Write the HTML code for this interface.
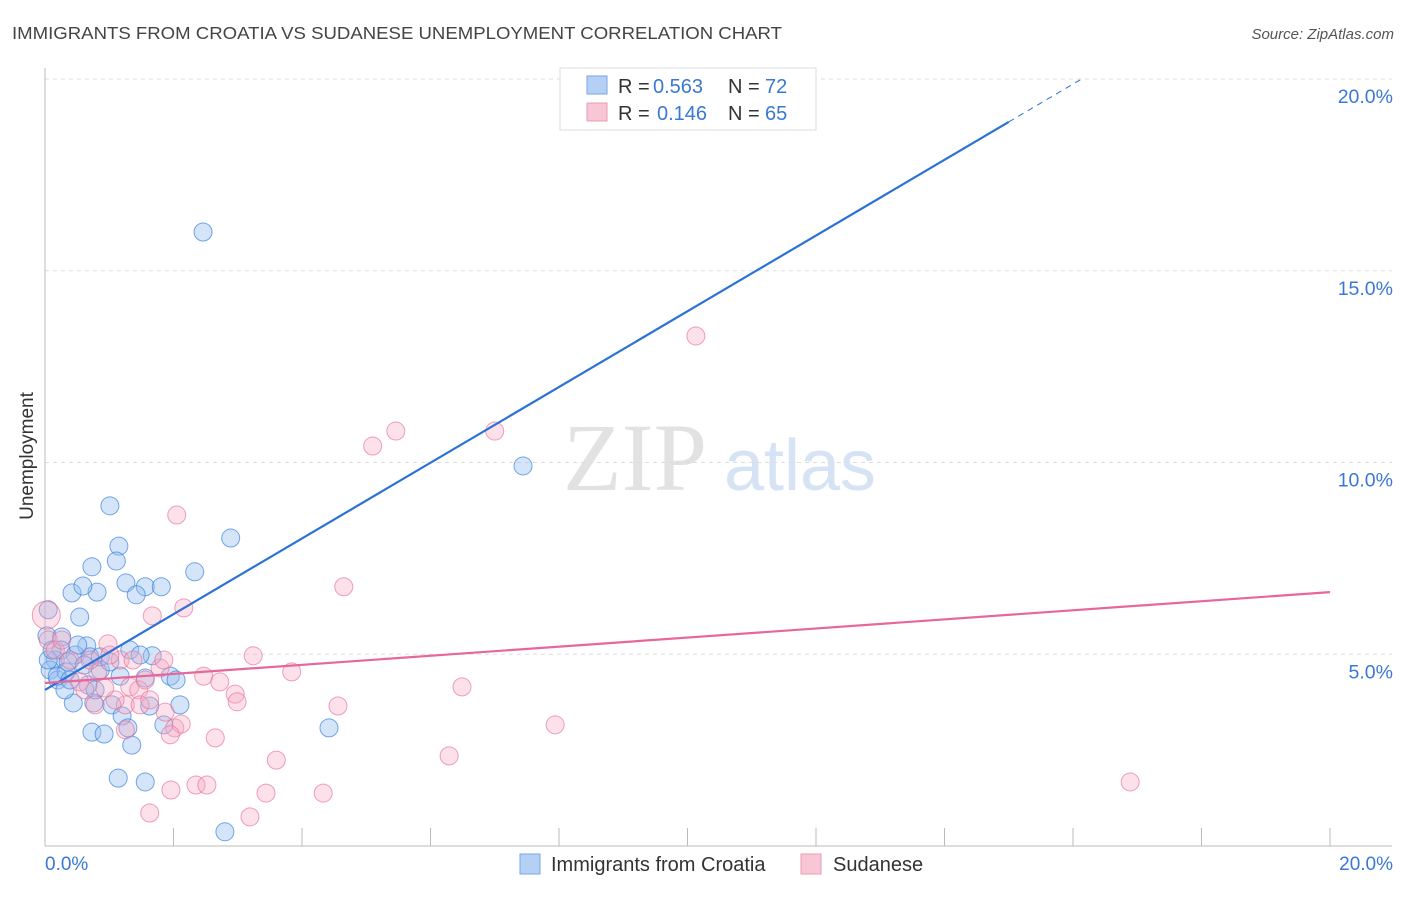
<!DOCTYPE html>
<html><head><meta charset="utf-8"><style>
body{margin:0;background:#fff;font-family:"Liberation Sans",sans-serif}
</style></head><body>
<svg width="1406" height="892" viewBox="0 0 1406 892" id="chart" font-family="Liberation Sans, sans-serif">
<text x="12" y="39" font-size="17.5" fill="#444" textLength="770" lengthAdjust="spacingAndGlyphs">IMMIGRANTS FROM CROATIA VS SUDANESE UNEMPLOYMENT CORRELATION CHART</text>
<text x="1394" y="39" font-size="15" fill="#555" font-style="italic" text-anchor="end">Source: ZipAtlas.com</text>
<text x="33" y="456" font-size="19" fill="#333" text-anchor="middle" transform="rotate(-90 33 456)">Unemployment</text>
<g>
<text x="635" y="490" font-size="96" font-family="Liberation Serif, serif" fill="#e2e2e2" text-anchor="middle">ZIP</text>
<text x="800" y="490" font-size="72" fill="#d6e3f5" text-anchor="middle">atlas</text>
</g>
<g id="grid"></g><g id="axes"></g><g id="pts"></g><g id="trend"></g>
<g>
<rect x="560" y="68" width="256" height="62" fill="#fff" stroke="#ddd"/>
<rect x="587" y="76" width="20" height="18" fill="#b5d0f5" stroke="#7aa6e6"/>
<rect x="587" y="103" width="20" height="18" fill="#f9c6d5" stroke="#eb9ab5"/>
<text x="618" y="93" font-size="20" fill="#333">R = <tspan fill="#3a78d4" x="653">0.563</tspan><tspan x="728">N = </tspan><tspan fill="#3a78d4" x="765">72</tspan></text>
<text x="618" y="120" font-size="20" fill="#333">R = <tspan fill="#3a78d4" x="657">0.146</tspan><tspan x="728">N = </tspan><tspan fill="#3a78d4" x="765">65</tspan></text>
</g>
<g>
<rect x="520" y="854" width="20" height="20" fill="#b5d0f5" stroke="#7aa6e6"/>
<text x="551" y="871" font-size="20" fill="#333">Immigrants from Croatia</text>
<rect x="801" y="854" width="20" height="20" fill="#f9c6d5" stroke="#eb9ab5"/>
<text x="833" y="871" font-size="20" fill="#333">Sudanese</text>
</g>
</svg>
<script>
const yTicks=[5,10,15,20];
const yTickLabels=["5.0%","10.0%","15.0%","20.0%"];
const xTickLabels=["0.0%","20.0%"];
const croatiaX=[2.46,7.44,1.01,2.89,1.15,1.11,0.73,2.33,1.26,1.56,1.81,0.42,0.81,1.42,0.59,0.54,0.05,0.03,0.26,0.65,1.32,1.67,0.25,0.47,0.70,0.16,0.36,0.86,1.17,1.56,1.95,2.04,0.67,0.44,1.04,1.63,0.76,1.20,1.85,0.73,0.92,1.35,1.29,4.42,1.14,1.56,2.80,0.08,0.20,0.31,0.05,2.10,0.11,0.33,0.51,0.86,0.19,0.61,1.01,1.48,0.39,0.78,10.27];
const croatiaY=[16.01,9.91,8.87,8.03,7.82,7.43,7.28,7.15,6.86,6.76,6.76,6.60,6.62,6.55,6.78,5.97,6.16,5.48,5.45,5.22,5.11,4.96,5.11,4.98,4.93,4.85,4.80,4.59,4.43,4.38,4.43,4.33,4.20,3.73,3.68,3.65,3.73,3.39,3.16,2.97,2.92,2.63,3.08,3.08,1.77,1.67,0.37,4.59,4.33,4.07,4.85,3.68,5.11,4.54,5.24,4.93,4.43,4.72,4.80,4.98,4.33,4.07,19.51];
const sudanX=[10.13,5.46,5.10,7.00,2.05,4.65,2.16,1.67,0.98,0.02,0.05,3.24,3.84,2.47,2.72,2.96,2.99,6.49,4.56,7.94,2.02,2.12,2.65,6.29,3.60,1.32,1.46,1.79,1.85,1.17,1.37,1.01,0.78,1.25,1.48,1.87,1.95,2.35,2.52,1.96,3.44,4.33,1.63,3.19,16.89,0.82,0.54,0.39,0.16,0.26,0.62,1.09,1.25,1.56,0.70,0.93,1.63];
const sudanY=[13.30,10.82,10.43,10.82,8.63,6.76,6.21,6.00,5.27,6.02,5.37,4.96,4.54,4.43,4.28,3.96,3.76,4.15,3.65,3.16,3.08,3.18,2.82,2.35,2.24,4.15,4.07,4.64,4.85,4.85,4.85,4.98,3.68,3.68,3.68,3.49,2.90,1.59,1.59,1.46,1.38,1.38,0.86,0.76,1.67,4.54,4.28,4.85,5.11,5.37,4.07,3.81,3.03,4.33,4.85,4.12,3.81];
const croatiaTrend=[4.07,18.88];
const sudanTrend=[4.25,6.62];
const NS="http://www.w3.org/2000/svg";
const X0=45,X1=1330,Y0=846,Y20=79;
const sx=v=>X0+(v/20)*(X1-X0);
const sy=v=>Y0-(v/20)*(Y0-Y20);
function mk(tag,attrs,parent){const e=document.createElementNS(NS,tag);for(const k in attrs)e.setAttribute(k,attrs[k]);document.getElementById(parent).appendChild(e);return e;}
yTicks.forEach((t,i)=>{
 const g=mk('line',{x1:45,x2:1392,y1:sy(t),y2:sy(t),stroke:'#ddd','stroke-dasharray':'4,4'},'grid');
 
 
 const l=mk('text',{x:1393,y:sy(t)+24,'font-size':19.5,fill:'#3a78d4','text-anchor':'end'},'grid');
 l.textContent=yTickLabels[i];
 
 
});
const ax=mk('line',{x1:45,x2:45,y1:68,y2:846,stroke:'#bbb'},'axes');


const bx=mk('line',{x1:45,x2:1392,y1:846,y2:846,stroke:'#bbb'},'axes');


for(let k=1;k<=10;k++){
 const t=mk('line',{x1:sx(k*2),x2:sx(k*2),y1:828,y2:846,stroke:'#bbb'},'axes');
 
 
}
[[0,'start',45],[20,'end',1393]].forEach((d,i)=>{
 const l=mk('text',{x:d[2],y:870,'font-size':19,fill:'#3a78d4','text-anchor':d[1]},'axes');
 l.textContent=xTickLabels[i];
 
 
});
croatiaX.forEach((x,i)=>{
 const c=mk('circle',{cx:sx(x),cy:sy(croatiaY[i]),r:9,fill:'rgba(150,190,240,0.4)',stroke:'rgba(60,130,220,0.7)','stroke-width':1},'pts');
 
 
});
sudanX.forEach((x,i)=>{
 const c=mk('circle',{cx:sx(x),cy:sy(sudanY[i]),r:i==9?14:9,fill:'rgba(245,170,195,0.35)',stroke:'rgba(230,110,150,0.65)','stroke-width':1},'pts');
 
 
});
const slope=(croatiaTrend[1]-croatiaTrend[0])/15;
const xEnd=(20-croatiaTrend[0])/slope;
const bl=mk('line',{x1:sx(0),y1:sy(croatiaTrend[0]),x2:sx(15),y2:sy(croatiaTrend[1]),stroke:'#2b72d6','stroke-width':2.2},'trend');


const bd=mk('line',{x1:sx(15),y1:sy(croatiaTrend[1]),x2:sx(xEnd),y2:sy(20),stroke:'#2b72d6','stroke-width':1,'stroke-dasharray':'6,5'},'trend');


const pl=mk('line',{x1:sx(0),y1:sy(sudanTrend[0]),x2:sx(20),y2:sy(sudanTrend[1]),stroke:'#e8679a','stroke-width':2.2},'trend');


</script>
</body></html>
